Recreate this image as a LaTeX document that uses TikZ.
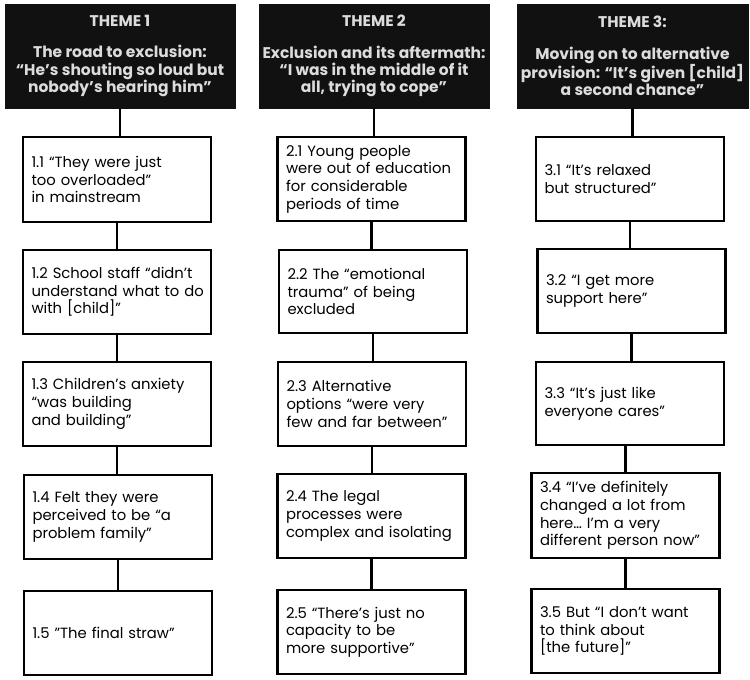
\documentclass[tikz,border=0pt]{standalone}
\usepackage{fontspec}
\setmainfont{Poppins}
\definecolor{headbg}{HTML}{111111}
\definecolor{headtx}{HTML}{DCDCDC}
\begin{document}
\begin{tikzpicture}[x=1pt,y=-1pt,
  headbox/.style={rectangle, fill=headbg, draw=headbg, text=headtx, align=center,
    font=\fontsize{15.5}{17.3}\selectfont\bfseries, inner sep=0pt},
  itembox/.style={rectangle, draw=black, line width=2.6pt, fill=white, align=left,
    inner xsep=8.5pt, inner ysep=0pt, text width=171pt,
    font=\fontsize{14.8}{17.7}\selectfont},
  link/.style={line width=2.6pt, draw=black}]
\useasboundingbox (0,0) rectangle (750,680);
\fill[white] (0,0) rectangle (750,680);
% headers
\node[headbox, minimum width=230pt, minimum height=104pt] (h1) at (120,56)
  {THEME 1\\[14pt]The road to exclusion:\\“He’s shouting so loud but\\nobody’s hearing him”};
\node[headbox, minimum width=230pt, minimum height=104pt] (h2) at (374,56)
  {THEME 2\\[14pt]Exclusion and its aftermath:\\“I was in the middle of it\\all, trying to cope”};
\node[headbox, minimum width=231pt, minimum height=104pt] (h3) at (632.5,56)
  {THEME 3:\\[14pt]Moving on to alternative\\provision: “It’s given [child]\\a second chance”};
% column 1
\node[itembox, minimum height=85pt] (b11) at (117,179.5) {1.1 “They were just\\too overloaded”\\in mainstream};
\node[itembox, minimum height=84pt] (b12) at (117,292) {1.2 School staff “didn’t\\\mbox{understand what to do}\\with [child]”};
\node[itembox, minimum height=84pt] (b13) at (117,404) {1.3 Children’s anxiety\\“was building\\and building”};
\node[itembox, minimum height=84pt] (b14) at (118,517) {1.4 Felt they were\\perceived to be “a\\problem family”};
\node[itembox, minimum height=84pt] (b15) at (118,633) {1.5 "The final straw"};
% column 2
\node[itembox, minimum height=84pt] (b21) at (371.5,179) {2.1 Young people\\were out of education\\for considerable\\periods of time};
\node[itembox, minimum height=83pt] (b22) at (373,291.5) {2.2 The “emotional\\trauma” of being\\excluded};
\node[itembox, minimum height=84pt] (b23) at (372,404) {2.3 Alternative\\options “were very\\few and far between”};
\node[itembox, minimum height=84pt] (b24) at (371.5,516) {2.4 The legal\\processes were\\complex and isolating};
\node[itembox, minimum height=84pt] (b25) at (371.5,632) {2.5 “There’s just no\\capacity to be\\more supportive”};
% column 3
\node[itembox, minimum height=84pt] (b31) at (630,179) {3.1 “It’s relaxed\\but structured”};
\node[itembox, minimum height=84pt] (b32) at (631.5,291) {3.2 “I get more\\support here”};
\node[itembox, minimum height=83pt] (b33) at (630,403.5) {3.3 “It’s just like\\everyone cares”};
\node[itembox, minimum height=85pt] (b34) at (625.5,515.5) {3.4 “I’ve definitely\\changed a lot from\\here… I’m a very\\different person now”};
\node[itembox, minimum height=84pt] (b35) at (625.5,631) {3.5 But “I don’t want\\to think about\\{}[the future]”};
% connectors
\draw[link] (h1.south) -- (h1.south |- b11.north);
\draw[link] (b11.south) -- (b11.south |- b12.north);
\draw[link] (b12.south) -- (b12.south |- b13.north);
\draw[link] (b13.south) -- (b13.south |- b14.north);
\draw[link] (b14.south) -- (b14.south |- b15.north);
\draw[link] (h2.south) -- (h2.south |- b21.north);
\draw[link] (b21.south) -- (b21.south |- b22.north);
\draw[link] (b22.south) -- (b22.south |- b23.north);
\draw[link] (b23.south) -- (b23.south |- b24.north);
\draw[link] (b24.south) -- (b24.south |- b25.north);
\draw[link] (h3.south) -- (h3.south |- b31.north);
\draw[link] (b31.south) -- (b31.south |- b32.north);
\draw[link] (b32.south) -- (b32.south |- b33.north);
\draw[link] (b34.north) -- (b34.north |- b33.south);
\draw[link] (b34.south) -- (b34.south |- b35.north);
\end{tikzpicture}
\end{document}
